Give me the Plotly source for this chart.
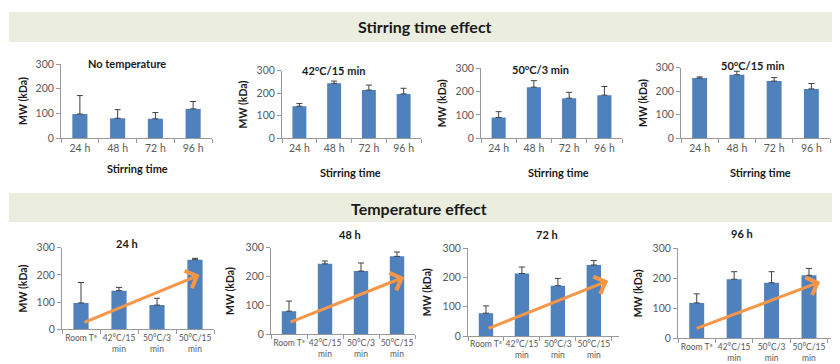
import plotly.graph_objects as go

# ---------------- data ----------------
stir_times = ["24 h", "48 h", "72 h", "96 h"]
treatments = ["Room Tª", "42°C/15<br>min", "50°C/3<br>min", "50°C/15<br>min"]
treatment_titles = ["No temperature", "42°C/15 min", "50°C/3 min", "50°C/15 min"]

# MW (kDa) per treatment, across stirring times 24/48/72/96 h
mw_room = [97, 80, 78, 118]
err_room = [75, 35, 25, 30]
mw_42_15 = [142, 244, 214, 197]
err_42_15 = [12, 10, 22, 25]
mw_50_3 = [89, 219, 172, 185]
err_50_3 = [25, 28, 25, 37]
mw_50_15 = [256, 270, 243, 210]
err_50_15 = [5, 15, 15, 23]

y_ticks = [0, 100, 200, 300]

# trend arrows in bottom panels: (tail x-index, tail y, head x-index, head y)
trend_arrows = [
    (0.05, 23, 3.12, 200),
    (0.0, 40, 3.2, 198),
    (0.03, 24, 3.4, 189),
    (-0.04, 31, 3.3, 188),
]

mw_all = [mw_room, mw_42_15, mw_50_3, mw_50_15]
err_all = [err_room, err_42_15, err_50_3, err_50_15]

# ---------------- layout helpers ----------------
OFF = 8                      # page body margin of the html page
W, H = 840 - OFF, 364 - OFF  # visible figure size
FONT = "Lato, Open Sans, Liberation Sans, sans-serif"
BAR = "#4F81BD"
AXC = "#999999"
TICKC = "#595959"
DARK = "#1A1A1A"


def px(x):
    return (x - OFF) / W


def py(y):
    return 1 - (y - OFF) / H


# plot areas in window pixel coordinates: (x0, x1, ytop, ybottom)
top_boxes = [(61, 212, 64, 138), (282, 421, 70.7, 138.3), (481, 622, 68.3, 138.3), (681, 830, 67.7, 138.3)]
bot_boxes = [(62, 214, 247.7, 329.3), (271, 415, 247.7, 334.3), (468, 619, 248.3, 336), (678, 831, 248.3, 338.3)]
top_titles_pos = [(127, 64), (333, 71), (540, 69), (752, 65)]
bot_titles_pos = [(127, 244), (350, 235), (547, 235), (742, 233)]
top_ylab_x = [23, 242, 442, 643]
bot_ylab_x = [22, 230, 427, 638]
top_xlab_pos = [(137, 168), (350, 172), (558, 172), (760, 172)]

fig = go.Figure()
layout = dict(
    width=W, height=H,
    margin=dict(l=0, r=0, t=0, b=0, autoexpand=False),
    paper_bgcolor="white", plot_bgcolor="white",
    showlegend=False,
    font=dict(family=FONT, size=10, color=TICKC),
    bargap=0.6,
)
annotations = []
shapes = []


def label(x, y, text, size=11, color=DARK, angle=0):
    annotations.append(dict(xref="paper", yref="paper", x=px(x), y=py(y),
                            xanchor="center", yanchor="middle",
                            text=text, showarrow=False, textangle=angle,
                            font=dict(size=size, color=color, family=FONT)))


# banners
for (y0, y1, text, tx, ty) in [(12, 42, "Stirring time effect", 425, 27),
                               (193, 222, "Temperature effect", 419, 208)]:
    shapes.append(dict(type="rect", xref="paper", yref="paper",
                       x0=px(9), x1=1, y0=py(y1), y1=py(y0),
                       fillcolor="#EBEEDF", line=dict(width=0), layer="below"))
    label(tx, ty, "<b>%s</b>" % text, size=16)


def axis_pair(idx, box, cats, tickfont_size):
    x0, x1, yt, yb = box
    xn = "xaxis" if idx == 1 else "xaxis%d" % idx
    yn = "yaxis" if idx == 1 else "yaxis%d" % idx
    layout[xn] = dict(domain=[px(x0), min(px(x1), 1)], anchor="y" if idx == 1 else "y%d" % idx,
                      type="category", categoryorder="array", categoryarray=cats,
                      showline=True, linecolor=AXC, linewidth=1,
                      ticks="outside", tickson="boundaries", ticklen=4, tickcolor=AXC,
                      tickfont=dict(size=tickfont_size, color=TICKC),
                      tickangle=0, automargin=False,
                      showgrid=False, zeroline=False, fixedrange=True)
    layout[yn] = dict(domain=[py(yb), py(yt)], anchor="x" if idx == 1 else "x%d" % idx,
                      range=[0, 300], tickvals=y_ticks,
                      showline=True, linecolor=AXC, linewidth=1,
                      ticks="outside", ticklen=4, tickcolor=AXC,
                      tickfont=dict(size=10.5, color=TICKC), automargin=False,
                      showgrid=False, zeroline=False, fixedrange=True)


idx = 0
# top row: one panel per treatment, bars over stirring time
for t in range(4):
    idx += 1
    axis_pair(idx, top_boxes[t], stir_times, 10.5)
    fig.add_trace(go.Bar(
        x=stir_times, y=mw_all[t],
        error_y=dict(type="data", symmetric=False, array=err_all[t],
                     arrayminus=[0] * 4, color="#404040", thickness=1, width=3),
        marker=dict(color=BAR, line=dict(width=0)),
        xaxis="x" if idx == 1 else "x%d" % idx,
        yaxis="y" if idx == 1 else "y%d" % idx,
    ))
    tx, ty = top_titles_pos[t]
    label(tx, ty, "<b>%s</b>" % treatment_titles[t], size=11)
    label(top_ylab_x[t], (top_boxes[t][2] + top_boxes[t][3]) / 2,
          "<b>MW (kDa)</b>", size=10.5, angle=-90)
    lx, ly = top_xlab_pos[t]
    label(lx, ly, "<b>Stirring time</b>", size=11)

# bottom row: one panel per stirring time, bars over treatment
for s in range(4):
    idx += 1
    axis_pair(idx, bot_boxes[s], treatments, 8.5)
    vals = [mw_all[t][s] for t in range(4)]
    errs = [err_all[t][s] for t in range(4)]
    xa = "x%d" % idx
    ya = "y%d" % idx
    fig.add_trace(go.Bar(
        x=treatments, y=vals,
        error_y=dict(type="data", symmetric=False, array=errs,
                     arrayminus=[0] * 4, color="#404040", thickness=1, width=3),
        marker=dict(color=BAR, line=dict(width=0)),
        xaxis=xa, yaxis=ya,
    ))
    tx, ty = bot_titles_pos[s]
    label(tx, ty, "<b>%s</b>" % stir_times[s], size=11)
    label(bot_ylab_x[s], (bot_boxes[s][2] + bot_boxes[s][3]) / 2,
          "<b>MW (kDa)</b>", size=10.5, angle=-90)
    ax0, ay0, hx, hy = trend_arrows[s]
    annotations.append(dict(xref=xa, yref=ya, axref=xa, ayref=ya,
                            x=hx, y=hy, ax=ax0, ay=ay0, text="",
                            showarrow=True, arrowhead=4, arrowsize=1.2,
                            arrowwidth=3, arrowcolor="#F79646", standoff=0,
                            startstandoff=0))

layout["annotations"] = annotations
layout["shapes"] = shapes
fig.update_layout(**layout)
fig.write_html("out.html")
